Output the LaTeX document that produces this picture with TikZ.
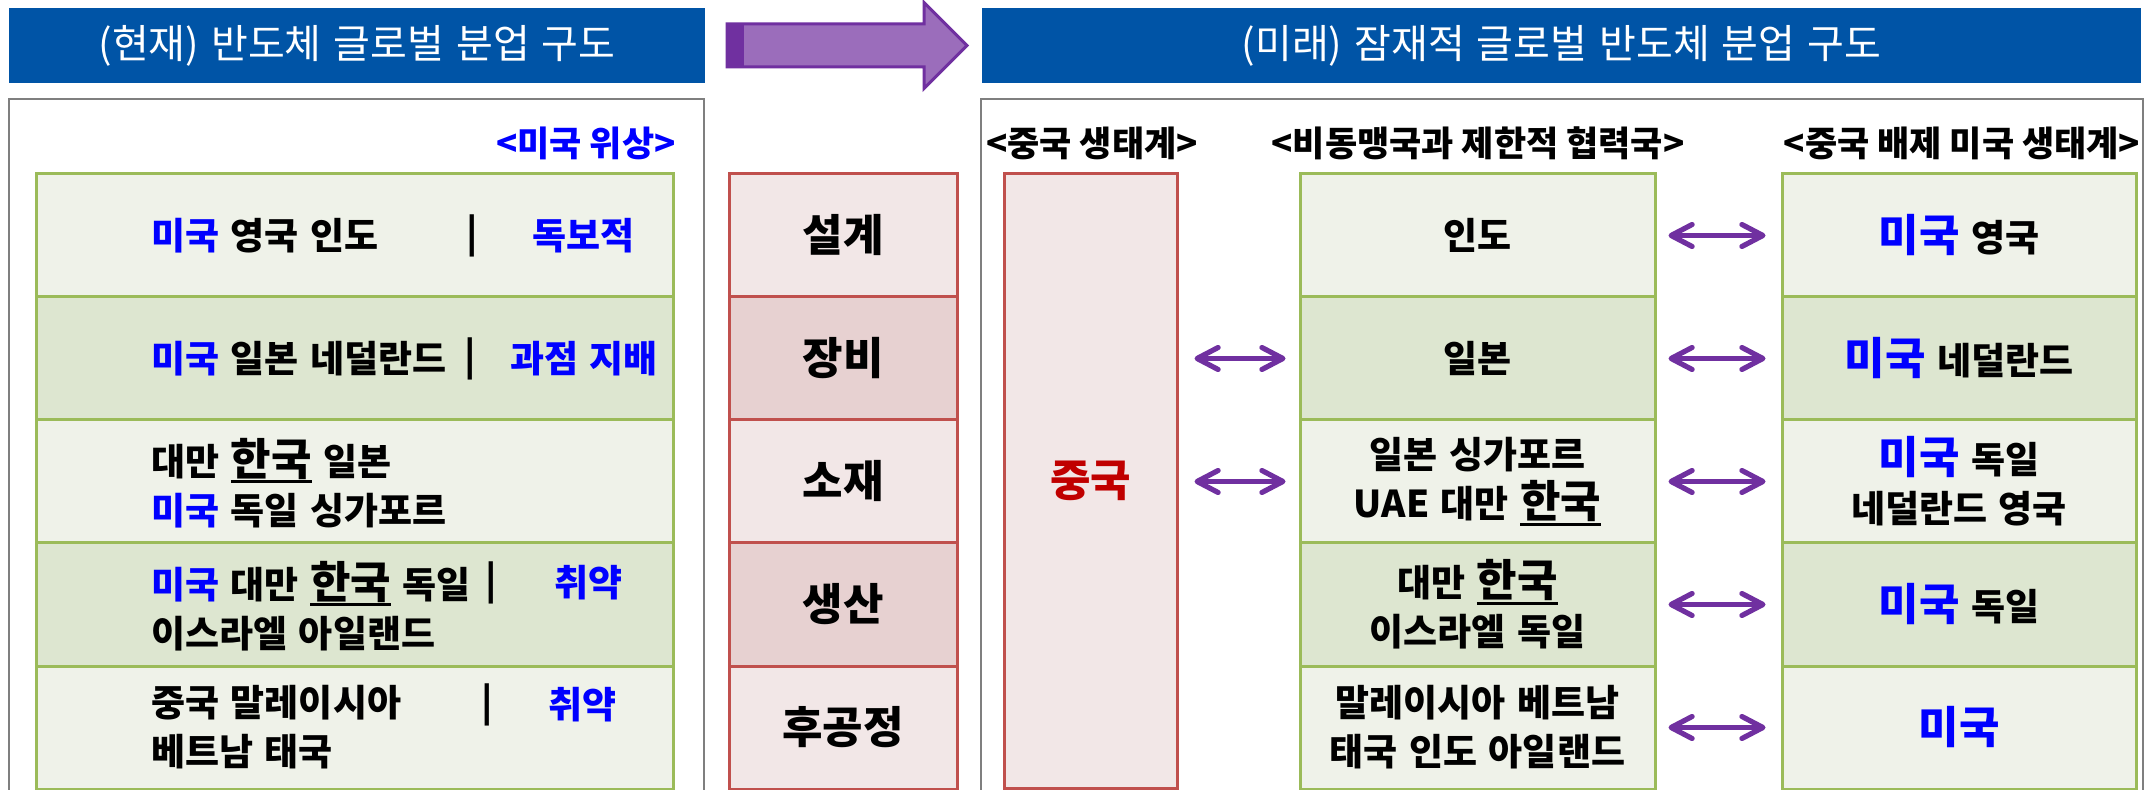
\documentclass[tikz,border=0pt]{standalone}
\usepackage{fontspec}
\setmainfont{Noto Sans CJK KR}
\newfontfamily\widefont{Noto Sans CJK KR}[WordSpace=1.7]
\newfontfamily\titlefont{Noto Sans CJK KR}[WordSpace=1.35]
\usetikzlibrary{arrows.meta}
\definecolor{titleblue}{HTML}{0054A6}
\definecolor{arrfill}{HTML}{9B6DBB}
\definecolor{purp}{HTML}{7030A0}
\definecolor{grnline}{HTML}{9BBB59}
\definecolor{grnA}{HTML}{EFF2E9}
\definecolor{grnB}{HTML}{DDE6D0}
\definecolor{redline}{HTML}{C0504D}
\definecolor{pinkA}{HTML}{F2E7E7}
\definecolor{pinkB}{HTML}{E7D1D1}
\definecolor{usblue}{HTML}{0000FF}
\definecolor{cnred}{HTML}{C00000}
\definecolor{panelgray}{HTML}{7F7F7F}
\newcommand\hk[1]{{\fontsize{22}{24}\selectfont\setbox0\hbox{#1}\rlap{\rule[-4pt]{\wd0}{1.5pt}}\box0}}
\newcommand\us[1]{\textcolor{usblue}{#1}}
\newcommand\usb[1]{{\fontsize{22}{24}\selectfont\textcolor{usblue}{#1}}}
\begin{document}
\begin{tikzpicture}[x=0.5pt,y=-0.5pt,
  titlebar/.style={fill=titleblue, draw=none, text=white, inner sep=0,
    font=\titlefont\fontsize{20}{22}\selectfont},
  panel/.style={draw=panelgray, line width=0.9pt, fill=white},
  greenbox/.style={draw=grnline, line width=1.5pt, rectangle, inner sep=0},
  redbox/.style={draw=redline, line width=1.5pt, rectangle, inner sep=0},
  leftrow/.style={greenbox, minimum width=318.5pt, minimum height=61.5pt},
  midrow/.style={greenbox, minimum width=177.5pt, minimum height=61.5pt, align=center,
    font=\widefont\fontsize{18.5}{24.5}\selectfont\bfseries},
  rightrow/.style={greenbox, minimum width=177pt, minimum height=61.5pt, align=center,
    font=\widefont\fontsize{18.5}{24.5}\selectfont\bfseries},
  stagebox/.style={redbox, minimum width=114pt, minimum height=61.5pt,
    font=\fontsize{22}{24}\selectfont\bfseries},
  txt/.style={inner sep=0, font=\widefont\fontsize{18.5}{24.5}\selectfont\bfseries},
  hdr/.style={inner sep=0, font=\fontsize{17.5}{22}\selectfont\bfseries},
  dbl/.style={draw=purp, line width=2.6pt, line cap=round,
    {Straight Barb[length=10.5pt,width=11pt,round]}-{Straight Barb[length=10.5pt,width=11pt,round]}}
]
\useasboundingbox (0,0) rectangle (2147,790);
\fill[white] (0,0) rectangle (2147,790);

% title bars
\node[titlebar, minimum width=348pt, minimum height=37.5pt] (tL) at (357,45.5) {(현재) 반도체 글로벌 분업 구도};
\node[titlebar, minimum width=579.5pt, minimum height=37.5pt] (tR) at (1561.5,45.5) {(미래) 잠재적 글로벌 반도체 분업 구도};

% big arrow
\draw[draw=purp, fill=arrfill, line width=1.5pt, line join=miter]
  (727,24) -- (924,24) -- (924,2.5) -- (967,45.5) -- (924,88.5) -- (924,67) -- (727,67) -- cycle;
\fill[purp] (727,24) rectangle (744,67);

% panels
\draw[panel] (9,99) rectangle (704,800);
\draw[panel] (981,99) rectangle (2143,800);

% headers
\node[hdr, text=usblue, anchor=east] (hL) at (676,143) {<미국 위상>};
\node[hdr] (h1) at (1092,143) {<중국 생태계>};
\node[hdr] (h2) at (1478,143) {<비동맹국과 제한적 협력국>};
\node[hdr] (h3) at (1962,143) {<중국 배제 미국 생태계>};

% left rows
\node[leftrow, fill=grnA] (L1) at (354.5,235.5) {};
\node[leftrow, fill=grnB] (L2) at (354.5,358.5) {};
\node[leftrow, fill=grnA] (L3) at (354.5,481.5) {};
\node[leftrow, fill=grnB] (L4) at (354.5,604.5) {};
\node[leftrow, fill=grnA] (L5) at (354.5,727.5) {};

\node[txt, anchor=west] (a1) at (151,235.5) {\us{미국} 영국 인도};
\node[txt] (v1) at (472,235.5) {|};
\node[txt, anchor=west, text=usblue] (s1) at (532,235.5) {독보적};

\node[txt, anchor=west] (a2) at (151,358.5) {\us{미국} 일본 네덜란드};
\node[txt] (v2) at (470,358.5) {|};
\node[txt, anchor=west, text=usblue] (s2) at (510,358.5) {과점 지배};

\node[txt, anchor=west, align=left] (a3) at (151,483) {대만 \hk{한국} 일본\\\us{미국} 독일 싱가포르};

\node[txt, anchor=west, align=left] (a4) at (151,606) {\us{미국} 대만 \hk{한국} 독일\\이스라엘 아일랜드};
\node[txt] (v4) at (491,583) {|};
\node[txt, anchor=west, text=usblue] (s4) at (554,583) {취약};

\node[txt, anchor=west, align=left] (a5) at (151,727.5) {중국 말레이시아\\베트남 태국};
\node[txt] (v5) at (487,705) {|};
\node[txt, anchor=west, text=usblue] (s5) at (548,705) {취약};

% stage boxes
\node[stagebox, fill=pinkA] (P1) at (843,235.5) {설계};
\node[stagebox, fill=pinkB] (P2) at (843,358.5) {장비};
\node[stagebox, fill=pinkA] (P3) at (843,481.5) {소재};
\node[stagebox, fill=pinkB] (P4) at (843,604.5) {생산};
\node[stagebox, fill=pinkA] (P5) at (843,727.5) {후공정};

% China column
\node[redbox, fill=pinkA, minimum width=86.5pt, minimum height=307pt, text=cnred,
  font=\fontsize{22}{24}\selectfont\bfseries] (CN) at (1090.5,481) {중국};

% middle column
\node[midrow, fill=grnA] (M1) at (1477.5,235.5) {인도};
\node[midrow, fill=grnB] (M2) at (1477.5,358.5) {일본};
\node[midrow, fill=grnA] (M3) at (1477.5,481.5) {일본 싱가포르\\UAE 대만 \hk{한국}};
\node[midrow, fill=grnB] (M4) at (1477.5,604.5) {대만 \hk{한국}\\이스라엘 독일};
\node[midrow, fill=grnA] (M5) at (1477.5,727.5) {말레이시아 베트남\\태국 인도 아일랜드};

% right column
\node[rightrow, fill=grnA] (R1) at (1959,235.5) {\usb{미국} 영국};
\node[rightrow, fill=grnB] (R2) at (1959,358.5) {\usb{미국} 네덜란드};
\node[rightrow, fill=grnA] (R3) at (1959,481.5) {\usb{미국} 독일\\네덜란드 영국};
\node[rightrow, fill=grnB] (R4) at (1959,604.5) {\usb{미국} 독일};
\node[rightrow, fill=grnA] (R5) at (1959,727.5) {\usb{미국}};

% connectors
\draw[dbl, shorten <=8pt, shorten >=6.5pt] (CN.east |- M2.west) -- (M2.west);
\draw[dbl, shorten <=8pt, shorten >=6.5pt] (CN.east |- M3.west) -- (M3.west);
\foreach \i in {1,...,5}{
  \draw[dbl, shorten <=6pt, shorten >=7.5pt] (M\i.east) -- (R\i.west);
}
\end{tikzpicture}
\end{document}
